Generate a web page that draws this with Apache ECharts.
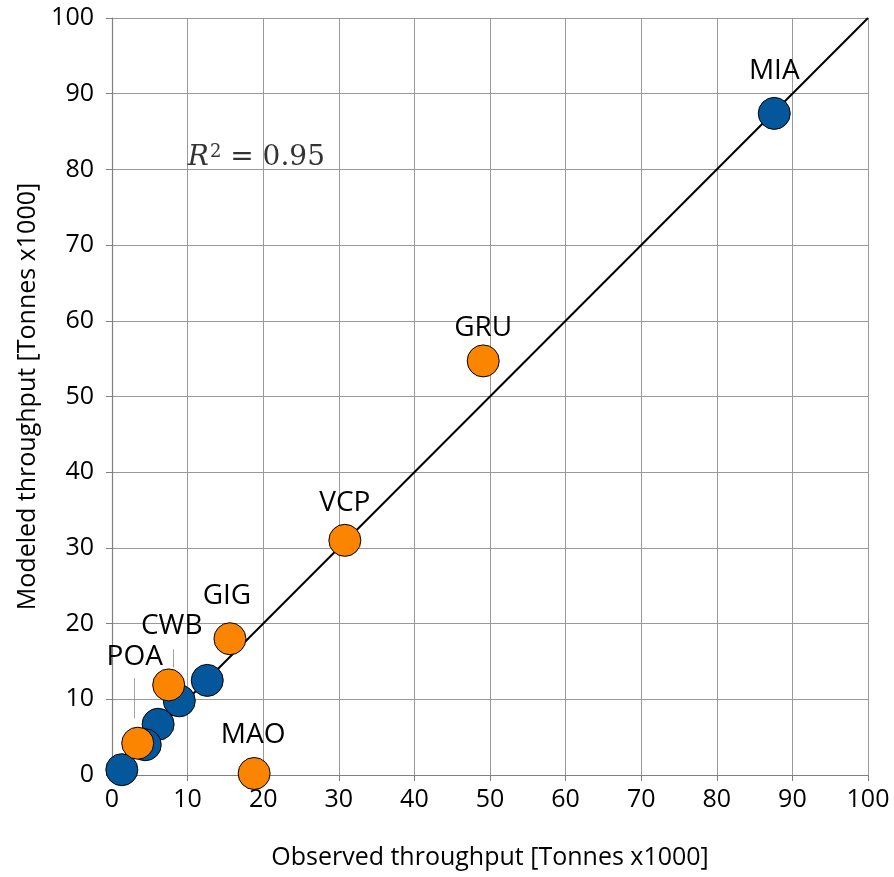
<!DOCTYPE html>
<html><head><meta charset="utf-8">
<script src="https://cdn.jsdelivr.net/npm/echarts@6/dist/echarts.min.js"></script>
<style>html,body{margin:0;padding:0;background:#fff}#c{width:894px;height:877px}</style>
</head><body><div id="c"></div>
<script>
// Blue points (unlabelled except MIA)
const blueNames = ['MIA', '', '', '', '', ''];
const blueX = [87.6, 12.6, 8.9, 6.1, 4.4, 1.3];
const blueY = [87.4, 12.5, 9.8, 6.7, 4.0, 0.7];
// Orange points
const orangeNames = ['GRU', 'VCP', 'GIG', 'CWB', 'POA', 'MAO'];
const orangeX = [49.1, 30.8, 15.6, 7.5, 3.4, 18.8];
const orangeY = [54.7, 31.0, 18.0, 11.9, 4.2, 0.2];
const ticks = [0, 10, 20, 30, 40, 50, 60, 70, 80, 90, 100];
const r2Text = '0.95';

const labelOffset = {
  MIA: [0, -12], GRU: [0, -2], VCP: [0, -7], GIG: [-3, -12],
  CWB: [3, -28], POA: [-3, -56], MAO: [-1, -8]
};
const leaders = [
  [[3.0, 12.8], [3.0, 7.5]],
  [[8.1, 16.6], [8.1, 14.2]]
];

const font = 'Open Sans';
function pts(xs, ys, names) {
  return xs.map((x, i) => {
    const n = names[i];
    return {
      value: [x, ys[i]], name: n,
      label: n ? {show: true, formatter: n, position: 'top', distance: 0, offset: labelOffset[n] || [0, 0]} : {show: false}
    };
  });
}

const chart = echarts.init(document.getElementById('c'), null, {renderer: 'canvas'});
const axisCommon = {
  type: 'value', min: 0, max: 100, interval: 10,
  axisLine: {show: true, lineStyle: {color: '#7f7f7f', width: 1.2}},
  axisTick: {show: true, length: 6, lineStyle: {color: '#7f7f7f'}},
  splitLine: {show: true, lineStyle: {color: '#9a9a9a', width: 1}},
  axisLabel: {color: '#000', fontFamily: font, fontSize: 25},
  nameLocation: 'middle',
  nameTextStyle: {color: '#000', fontFamily: font, fontSize: 25}
};
chart.setOption({
  animation: false,
  backgroundColor: '#fff',
  grid: {left: 112, right: 26, top: 18, bottom: 102},
  xAxis: Object.assign({}, axisCommon, {name: 'Observed throughput [Tonnes x1000]', nameGap: 70,
    axisLabel: Object.assign({}, axisCommon.axisLabel, {margin: 12})}),
  yAxis: Object.assign({}, axisCommon, {name: 'Modeled throughput [Tonnes x1000]', nameGap: 71,
    axisLabel: Object.assign({}, axisCommon.axisLabel, {margin: 18})}),
  series: [
    {
      type: 'line', data: [[0, 0], [100, 100]], showSymbol: false, symbol: 'none',
      lineStyle: {color: '#000', width: 2}, z: 2, silent: true,
      markLine: {
        silent: true, symbol: 'none', animation: false,
        lineStyle: {color: '#8a8a8a', width: 0.8, type: 'solid'},
        label: {show: false},
        data: leaders.map(l => [{coord: l[0]}, {coord: l[1]}])
      }
    },
    {
      type: 'scatter', symbolSize: 32, z: 3,
      itemStyle: {color: '#04579b', borderColor: '#000', borderWidth: 1, opacity: 1},
      label: {color: '#000', fontFamily: font, fontSize: 28},
      data: pts(blueX, blueY, blueNames)
    },
    {
      type: 'scatter', symbolSize: 32, z: 4,
      itemStyle: {color: '#fb8500', borderColor: '#000', borderWidth: 1, opacity: 1},
      label: {color: '#000', fontFamily: font, fontSize: 28},
      data: pts(orangeX, orangeY, orangeNames)
    },
    {
      type: 'scatter', symbolSize: 0, z: 5, silent: true,
      data: [{value: [19.1, 81.5], label: {show: true, position: 'inside',
        formatter: '{i|R}{s|2}{n| = ' + r2Text + '}',
        rich: {
          i: {fontFamily: 'DejaVu Serif', fontStyle: 'italic', fontSize: 28, color: '#000', padding: [0, 1, 0, 0]},
          s: {fontFamily: 'DejaVu Serif', fontSize: 18, color: '#000', verticalAlign: 'top', padding: [0, 0, 12, 0]},
          n: {fontFamily: 'DejaVu Serif', fontSize: 28, color: '#000'}
        }}}]
    }
  ]
});
</script></body></html>
